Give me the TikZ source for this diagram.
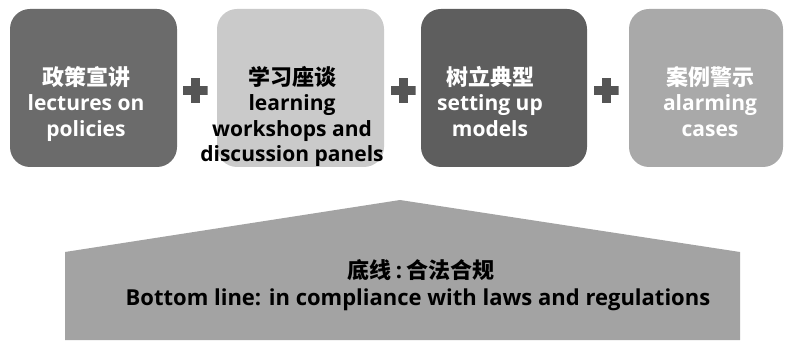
\documentclass[tikz,border=0pt]{standalone}
\usepackage{fontspec}
\setmainfont{Open Sans}
\newfontfamily\cjk{Noto Sans CJK SC}
\definecolor{boxA}{HTML}{6B6B6B}
\definecolor{boxB}{HTML}{CACACA}
\definecolor{boxC}{HTML}{5E5E5E}
\definecolor{boxD}{HTML}{A9A9A9}
\definecolor{baseC}{HTML}{A3A3A3}
\definecolor{plusC}{HTML}{555555}
\newcommand{\zh}[1]{{\cjk\fontsize{22}{25.5}\selectfont #1}}
\tikzset{
  card/.style={rounded corners=20pt, inner sep=0pt},
  cardtext/.style={anchor=north, align=center, inner sep=0pt,
    font=\fontsize{21}{25.5}\selectfont\bfseries},
  plussign/.style={minimum size=25pt, inner sep=0pt,
    path picture={
      \fill[plusC] ([xshift=-4.5pt]path picture bounding box.north) rectangle ([xshift=4.5pt]path picture bounding box.south);
      \fill[plusC] ([yshift=-4.5pt]path picture bounding box.west) rectangle ([yshift=4.5pt]path picture bounding box.east);
    }},
  basetext/.style={align=center, inner sep=0pt,
    font=\fontsize{22}{30}\selectfont\bfseries}
}
\begin{document}
\begin{tikzpicture}[x=1pt,y=1pt]
\useasboundingbox (0,0) rectangle (786,340);
% cards
\fill[boxA, card] (10,173) rectangle (177,331);
\fill[boxB, card] (217,173) rectangle (384,331);
\fill[boxC, card] (421,173) rectangle (587,331);
\fill[boxD, card] (629,173) rectangle (783,331);
\node[cardtext, text=white] (t1) at (86,274) {\zh{政策宣讲}\\lectures on\\policies};
\node[cardtext, text=black] (t2) at (292,274) {\zh{学习座谈}\\learning\\workshops and\\discussion panels};
\node[cardtext, text=white] (t3) at (490,274) {\zh{树立典型}\\setting up\\models};
\node[cardtext, text=white] (t4) at (710,274) {\zh{案例警示}\\alarming\\cases};
% plus signs
\node[plussign] (p1) at (195,249) {};
\node[plussign] (p2) at (403,249) {};
\node[plussign] (p3) at (606,249) {};
% base
\fill[baseC] (65,0) -- (65,88) -- (400,140) -- (740,88) -- (740,0) -- cycle;
\node[basetext] (b1) at (421,70) {{\cjk 底线}\kern4pt:\kern4pt{\cjk 合法合规}};
\node[basetext] (b2) at (418,40) {Bottom line: in compliance with laws and regulations};
\end{tikzpicture}
\end{document}
